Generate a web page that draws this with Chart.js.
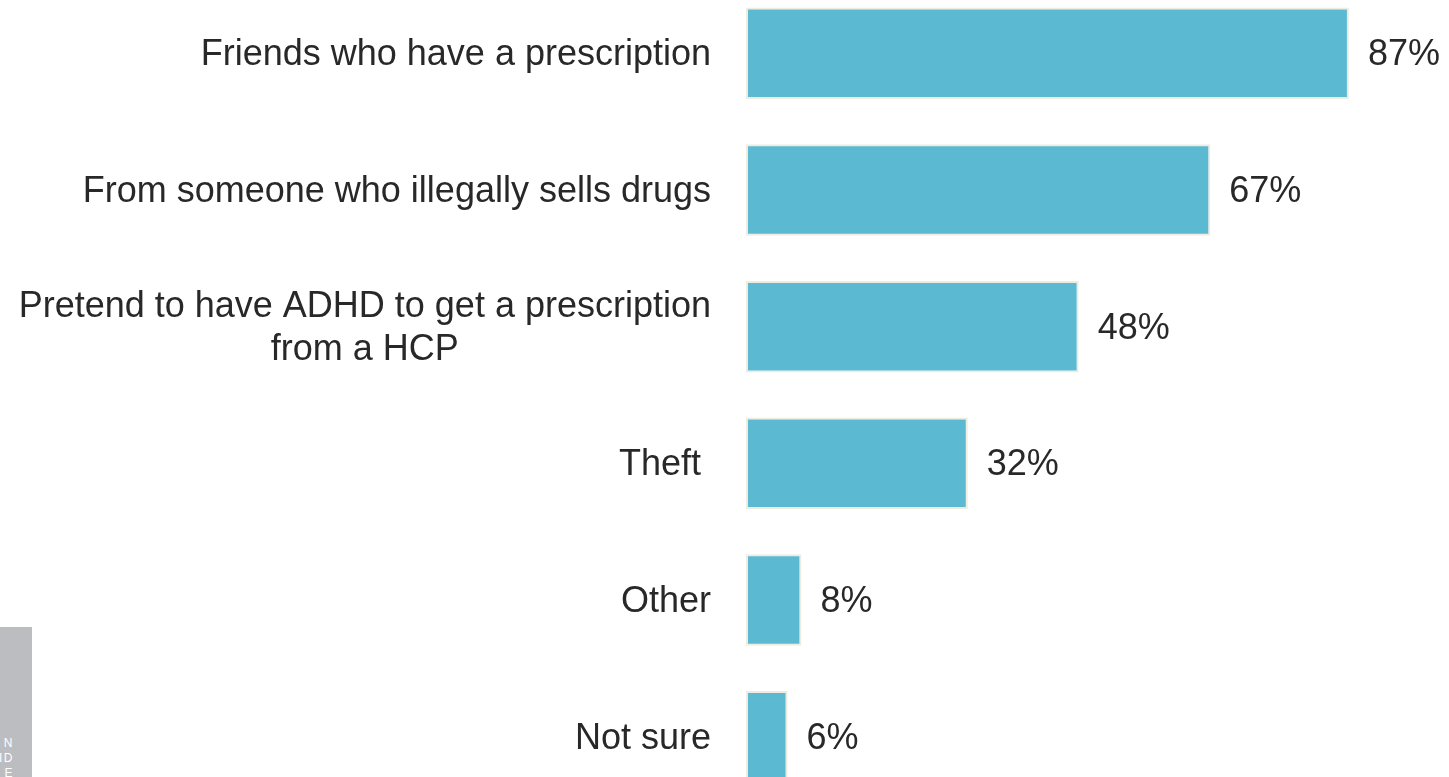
<!DOCTYPE html>
<html>
<head>
<meta charset="utf-8">
<script src="https://cdn.jsdelivr.net/npm/chart.js@4/dist/chart.umd.min.js"></script>
<style>
  html, body { margin: 0; padding: 0; background: #fff; }
  #frame { position: relative; width: 1449px; height: 777px; overflow: hidden; }
  #plot { position: absolute; left: 0; top: -15px; }
  #tab {
    position: absolute; left: 0; top: 627px; width: 32px; height: 150px;
    background: #bcbdc0; overflow: hidden;
    font: 12px "Liberation Sans", Arial, sans-serif; color: #fff;
    letter-spacing: 1.5px; line-height: 15px;
  }
  #tab div { position: absolute; right: 18px; top: 109px; text-align: right; white-space: nowrap; }
</style>
</head>
<body>
<div id="frame">
  <canvas id="plot" width="1449" height="820"></canvas>
  <div id="tab"><div>N<br>ID<br>E</div></div>
</div>
<script>
// answers, top to bottom
const sources = [
  ['Friends who have a prescription'],
  ['From someone who illegally sells drugs'],
  ['Pretend to have ADHD to get a prescription', 'from a HCP'],
  ['Theft '],
  ['Other'],
  ['Not sure']
];
const shares = [87, 67, 48, 32, 8, 6];

const FONT = '36px "Liberation Sans", Arial, Helvetica, sans-serif';
const INK = '#282828';

// category text: block right-aligned to the axis, lines centred inside the block
const sideLabels = {
  id: 'sideLabels',
  afterDraw(chart) {
    const { ctx, chartArea } = chart;
    const y = chart.scales.y;
    const right = chartArea.left - 35;
    ctx.save();
    ctx.font = FONT;
    ctx.fillStyle = INK;
    ctx.textAlign = 'center';
    ctx.textBaseline = 'middle';
    sources.forEach((lines, i) => {
      const w = Math.max(...lines.map(l => ctx.measureText(l).width));
      const cx = right - w / 2;
      const cy = y.getPixelForValue(i);
      lines.forEach((l, j) => {
        ctx.fillText(l, cx, cy + 2 + (j - (lines.length - 1) / 2) * 43);
      });
    });
    ctx.restore();
  }
};

// percentage to the right of each bar
const valueLabels = {
  id: 'valueLabels',
  afterDatasetsDraw(chart) {
    const { ctx } = chart;
    const meta = chart.getDatasetMeta(0);
    ctx.save();
    ctx.font = FONT;
    ctx.fillStyle = INK;
    ctx.textAlign = 'left';
    ctx.textBaseline = 'middle';
    meta.data.forEach((bar, i) => {
      ctx.fillText(shares[i] + '%', bar.x + 19, bar.y + 2);
    });
    ctx.restore();
  }
};

new Chart(document.getElementById('plot'), {
  type: 'bar',
  data: {
    labels: sources,
    datasets: [{
      data: shares,
      backgroundColor: '#5bb9d1',
      borderColor: '#eeebe1',
      borderWidth: 2,
      borderSkipped: false,
      categoryPercentage: 0.67,
      barPercentage: 1
    }]
  },
  options: {
    indexAxis: 'y',
    responsive: false,
    animation: false,
    layout: { padding: { left: 0, right: 10, top: 0, bottom: 0 } },
    plugins: { legend: { display: false }, tooltip: { enabled: false } },
    scales: {
      x: { min: 0, max: 100, display: false },
      y: {
        grid: { display: false, drawTicks: false },
        border: { display: false },
        ticks: { display: false },
        afterFit(scale) { scale.width = 746; }
      }
    }
  },
  plugins: [sideLabels, valueLabels]
});
</script>
</body>
</html>
